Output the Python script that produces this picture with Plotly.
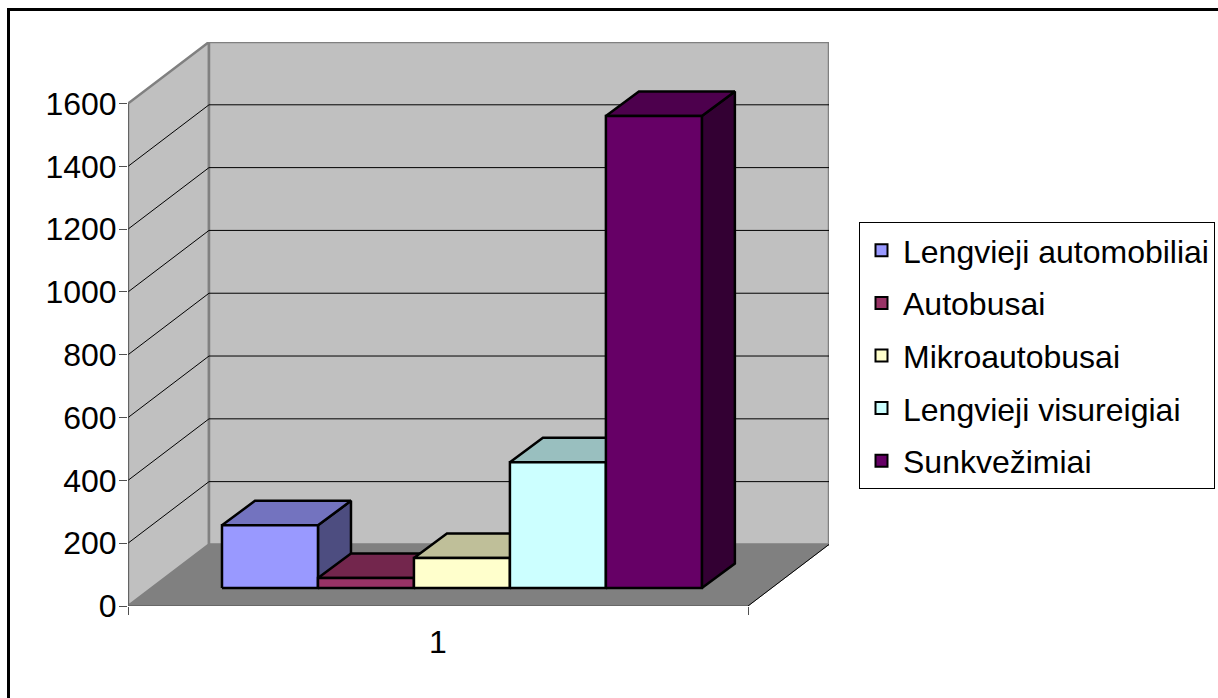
import plotly.graph_objects as go

categories = ["1"]
series_names = ["Lengvieji automobiliai", "Autobusai", "Mikroautobusai", "Lengvieji visureigiai", "Sunkvežimiai"]
series_values = [200, 32, 96, 401, 1503]
front_colors = ["#9999FF", "#993366", "#FFFFCC", "#CCFFFF", "#660066"]
top_colors = ["#7373BF", "#73264D", "#BFBF99", "#99BFBF", "#4D004D"]
side_colors = ["#4D4D80", "#4D1A33", "#808066", "#668080", "#330033"]
y_ticks = [0, 200, 400, 600, 800, 1000, 1200, 1400, 1600]

FONT = "Liberation Sans, Arial, sans-serif"
# oblique projection, in axis units
WALL_DX, WALL_DY = 81 / 620, 196
BAR_START, BAR_W = 0.1516, 0.1548
BAR_DX, BAR_DY = 33 / 620, 78
BASE_Y = 57
X_MAX = WALL_DX + 1
Y_MAX = 1600 + WALL_DY

fig = go.Figure()


def poly(xs, ys, fill, line, width):
    fig.add_trace(go.Scatter(x=xs, y=ys, mode="lines", fill="toself", fillcolor=fill,
                             line=dict(color=line, width=width), showlegend=False,
                             hoverinfo="skip", cliponaxis=False))


def seg(xs, ys, color, width):
    fig.add_trace(go.Scatter(x=xs, y=ys, mode="lines", line=dict(color=color, width=width),
                             showlegend=False, hoverinfo="skip", cliponaxis=False))


# walls and floor
top = y_ticks[-1]
poly([0, WALL_DX, WALL_DX, 0, 0], [0, WALL_DY, top + WALL_DY, top, 0], "#C0C0C0", "#808080", 2.5)
poly([WALL_DX, 1 + WALL_DX, 1 + WALL_DX, WALL_DX, WALL_DX],
     [WALL_DY, WALL_DY, top + WALL_DY, top + WALL_DY, WALL_DY], "#C0C0C0", "#808080", 2.5)
poly([0, 1, 1 + WALL_DX, WALL_DX, 0], [0, 0, WALL_DY, WALL_DY, 0], "#808080", "#808080", 1)
# gridlines
for t in y_ticks[1:-1]:
    seg([0, WALL_DX, 1 + WALL_DX], [t, t + WALL_DY, t + WALL_DY], "#000000", 1)
# front edges
seg([0, 0], [0, top], "#505050", 1.2)
seg([0, 1], [0, 0], "#505050", 1.2)
seg([1, 1 + WALL_DX], [0, WALL_DY], "#000000", 1)

# bars, painted left to right
for i, v in enumerate(series_values):
    x0 = BAR_START + i * BAR_W
    x1 = x0 + BAR_W
    y0, y1 = BASE_Y, BASE_Y + v
    poly([x1, x1 + BAR_DX, x1 + BAR_DX, x1, x1], [y0, y0 + BAR_DY, y1 + BAR_DY, y1, y0],
         side_colors[i], "#000000", 2.5)
    poly([x0, x1, x1 + BAR_DX, x0 + BAR_DX, x0], [y1, y1, y1 + BAR_DY, y1 + BAR_DY, y1],
         top_colors[i], "#000000", 2.5)
    poly([x0, x1, x1, x0, x0], [y0, y0, y1, y1, y0], front_colors[i], "#000000", 2.5)

# legend entries
for name, color in zip(series_names, front_colors):
    fig.add_trace(go.Scatter(x=[None], y=[None], mode="markers", name=name, legendgroup=name,
                             marker=dict(symbol="square", size=17, color=color,
                                         line=dict(color="#000000", width=2))))

W, H = 1218, 698
PL, PT, PW, PH = 128, 42, 701, 564
px = lambda v: (v - PL) / PW
py = lambda v: (PT + PH - v) / PH
fig.update_layout(
    width=W, height=H, autosize=False,
    margin=dict(l=PL, r=W - PL - PW, t=PT, b=H - PT - PH, pad=0),
    paper_bgcolor="#FFFFFF", plot_bgcolor="#FFFFFF",
    font=dict(family=FONT, color="#000000"),
    xaxis=dict(range=[0, X_MAX], showgrid=False, zeroline=False, showline=False,
               tickmode="array", tickvals=[0.5], ticktext=categories, ticks="",
               tickfont=dict(size=32), ticklabelstandoff=14,
               minor=dict(tickmode="array", tickvals=[0, 1], ticks="outside", ticklen=8,
                          tickcolor="#505050", tickwidth=1.2, showgrid=False)),
    yaxis=dict(range=[0, Y_MAX], showgrid=False, zeroline=False, showline=False,
               tickmode="array", tickvals=y_ticks, ticks="outside", ticklen=8,
               tickcolor="#505050", tickwidth=1.2, tickfont=dict(size=32), ticklabelstandoff=-4),
    legend=dict(x=859 / W, xref="container", xanchor="left", y=1 - 222 / H, yref="container",
                yanchor="top", traceorder="grouped", tracegroupgap=8, bgcolor="#FFFFFF",
                bordercolor="#000000", borderwidth=1, itemsizing="constant", itemwidth=33,
                font=dict(size=32, family=FONT)),
    shapes=[
        dict(type="line", xref="paper", yref="paper", x0=px(8.5), x1=px(8.5), y0=py(8), y1=py(700),
             line=dict(color="#000000", width=3), layer="above"),
        dict(type="line", xref="paper", yref="paper", x0=px(7), x1=px(1220), y0=py(9.5), y1=py(9.5),
             line=dict(color="#000000", width=3), layer="above"),
    ],
)
fig.write_html("out.html", config={"displayModeBar": False},
               post_script="document.body.style.margin='0';document.documentElement.style.overflow='hidden';")
